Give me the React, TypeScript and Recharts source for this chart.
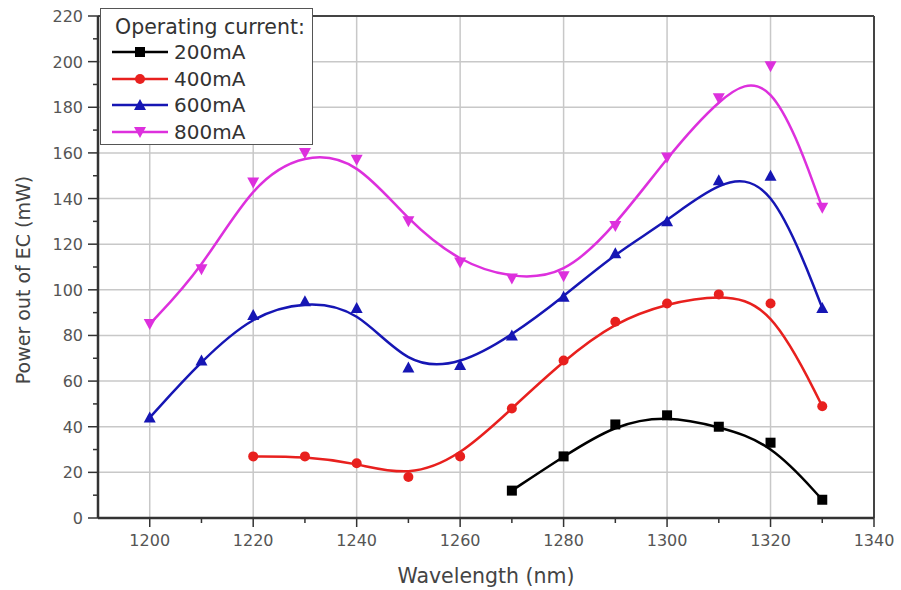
import React from 'react';
import { LineChart, Line, XAxis, YAxis, ReferenceLine, Legend, Label } from 'recharts';

const wl200 = [1270, 1280, 1290, 1300, 1310, 1320, 1330];
const p200 = [12, 27, 41, 45, 40, 33, 8];
const wl400 = [1220, 1230, 1240, 1250, 1260, 1270, 1280, 1290, 1300, 1310, 1320, 1330];
const p400 = [27, 27, 24, 18, 27, 48, 69, 86, 94, 98, 94, 49];
const wl600 = [1200, 1210, 1220, 1230, 1240, 1250, 1260, 1270, 1280, 1290, 1300, 1310, 1320, 1330];
const p600 = [44, 69, 89, 95, 92, 66, 67, 80, 97, 116, 130, 148, 150, 92];
const wl800 = [1200, 1210, 1220, 1230, 1240, 1250, 1260, 1270, 1280, 1290, 1300, 1310, 1320, 1330];
const p800 = [85, 109, 147, 160, 157, 130, 112, 105, 106, 128, 158, 184, 198, 136];

const xTicks = [1200, 1210, 1220, 1230, 1240, 1250, 1260, 1270, 1280, 1290, 1300, 1310, 1320, 1330, 1340];
const xMajor = [1200, 1220, 1240, 1260, 1280, 1300, 1320];
const yTicks = [0, 10, 20, 30, 40, 50, 60, 70, 80, 90, 100, 110, 120, 130, 140, 150, 160, 170, 180, 190, 200, 210, 220];
const yMajor = [20, 40, 60, 80, 100, 120, 140, 160, 180, 200];

const FONT = '"DejaVu Sans", "Liberation Sans", Arial, sans-serif';

const zip = (xs: number[], ys: number[]) => xs.map((x, i) => ({ x, y: ys[i] }));

const series = [
  { name: '200mA', color: '#000000', shape: 'square', data: zip(wl200, p200) },
  { name: '400mA', color: '#e8201e', shape: 'circle', data: zip(wl400, p400) },
  { name: '600mA', color: '#1616b4', shape: 'up', data: zip(wl600, p600) },
  { name: '800mA', color: '#dd30dd', shape: 'down', data: zip(wl800, p800) },
];

function Marker({ cx, cy, shape, color }: any) {
  if (cx == null || cy == null) return null;
  const s = 5;
  if (shape === 'square') return <rect x={cx - s} y={cy - s} width={2 * s} height={2 * s} fill={color} />;
  if (shape === 'circle') return <circle cx={cx} cy={cy} r={s} fill={color} />;
  if (shape === 'up')
    return <polygon points={`${cx},${cy - 6} ${cx - 6},${cy + 5} ${cx + 6},${cy + 5}`} fill={color} />;
  return <polygon points={`${cx},${cy + 6} ${cx - 6},${cy - 5} ${cx + 6},${cy - 5}`} fill={color} />;
}

function XTick(props: any) {
  const { x, y, payload } = props;
  const v = payload.value;
  const major = v % 20 === 0;
  return (
    <g>
      <line x1={x} x2={x} y1={y} y2={y + (major ? 9 : 5)} stroke="#333" strokeWidth={1.5} />
      {major && (
        <text x={x} y={y + 28} textAnchor="middle" fontSize={16} fill="#555" fontFamily={FONT}>
          {v}
        </text>
      )}
    </g>
  );
}

function YTick(props: any) {
  const { x, y, payload } = props;
  const v = payload.value;
  const major = v % 20 === 0;
  return (
    <g>
      <line x1={x - (major ? 10 : 5)} x2={x} y1={y} y2={y} stroke="#333" strokeWidth={1.5} />
      {major && (
        <text x={x - 15} y={y + 6} textAnchor="end" fontSize={16} fill="#555" fontFamily={FONT}>
          {v}
        </text>
      )}
    </g>
  );
}

function LegendBox() {
  return (
    <div
      style={{
        border: '1px solid #555',
        background: '#fff',
        width: 213,
        height: 137,
        boxSizing: 'border-box',
        fontFamily: FONT,
        color: '#333',
        paddingLeft: 10,
        paddingTop: 6,
      }}
    >
      <div style={{ fontSize: 20.5, lineHeight: '24px', marginLeft: 4, whiteSpace: 'nowrap' }}>Operating current:</div>
      {series.map((s) => (
        <div key={s.name} style={{ display: 'flex', alignItems: 'center', height: 26.5 }}>
          <svg width={60} height={16} style={{ display: 'block' }}>
            <line x1={1} x2={57} y1={8} y2={8} stroke={s.color} strokeWidth={2.5} />
            <Marker cx={29} cy={8} shape={s.shape} color={s.color} />
          </svg>
          <span style={{ fontSize: 20, lineHeight: '20px', marginLeft: 3 }}>{s.name}</span>
        </div>
      ))}
    </div>
  );
}

export default function App() {
  return (
    <div style={{ position: 'absolute', left: 0, top: 0, width: 901, height: 590, background: '#fff' }}>
      <LineChart width={901} height={590} margin={{ top: 16, right: 27, left: 0, bottom: 0 }}>
        {yMajor.map((v) => (
          <ReferenceLine key={'h' + v} y={v} stroke="#c8c8c8" strokeWidth={1.5} />
        ))}
        {xMajor.map((v) => (
          <ReferenceLine key={'v' + v} x={v} stroke="#c8c8c8" strokeWidth={1.5} />
        ))}
        <ReferenceLine y={220} stroke="#444" strokeWidth={2} />
        <ReferenceLine x={1340} stroke="#444" strokeWidth={2} />
        <XAxis
          type="number"
          dataKey="x"
          domain={[1190, 1340]}
          ticks={xTicks}
          interval={0}
          tick={<XTick />}
          tickLine={false}
          tickSize={0}
          tickMargin={0}
          height={72}
          axisLine={{ stroke: '#333', strokeWidth: 2.5 }}
          allowDataOverflow
        >
          <Label
            content={() => (
              <text x={486} y={583} textAnchor="middle" fontSize={20.5} fill="#444" fontFamily={FONT}>
                Wavelength (nm)
              </text>
            )}
          />
        </XAxis>
        <YAxis
          type="number"
          domain={[0, 220]}
          ticks={yTicks}
          interval={0}
          tick={<YTick />}
          tickLine={false}
          tickSize={0}
          tickMargin={0}
          width={98}
          axisLine={{ stroke: '#333', strokeWidth: 2.5 }}
          allowDataOverflow
        >
          <Label
            content={() => (
              <text
                x={30}
                y={280}
                transform="rotate(-90 30 280)"
                textAnchor="middle"
                fontSize={19}
                fill="#444"
                fontFamily={FONT}
              >
                Power out of EC (mW)
              </text>
            )}
          />
        </YAxis>
        <Legend
          layout="vertical"
          align="center"
          verticalAlign="middle"
          content={() => <LegendBox />}
          wrapperStyle={{ position: 'absolute', left: 100, top: 8, width: 213, height: 137 }}
        />
        {series.map((s) => (
          <Line
            key={s.name}
            name={s.name}
            data={s.data}
            dataKey="y"
            type="basis"
            stroke={s.color}
            strokeWidth={2.5}
            dot={(p: any) => <Marker key={s.name + p.index} cx={p.cx} cy={p.cy} shape={s.shape} color={s.color} />}
            activeDot={false}
            isAnimationActive={false}
          />
        ))}
      </LineChart>
    </div>
  );
}
